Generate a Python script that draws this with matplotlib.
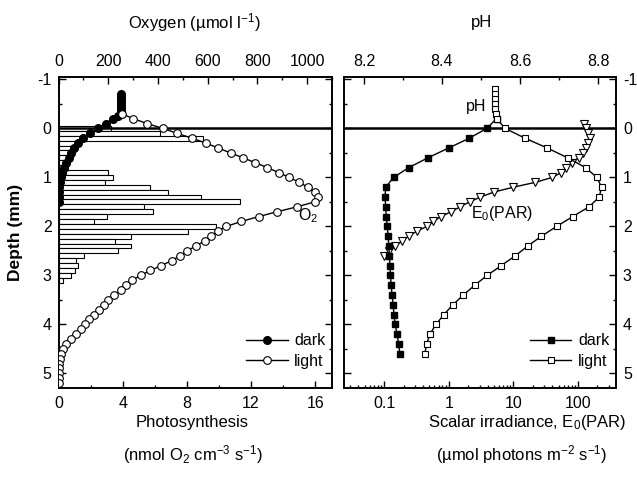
import matplotlib
matplotlib.use("Agg")
import matplotlib.pyplot as plt
from matplotlib.ticker import MultipleLocator, FixedLocator, NullFormatter

plt.rcParams['font.family'] = ['Liberation Sans', 'DejaVu Sans']
plt.rcParams['mathtext.fontset'] = 'custom'
plt.rcParams['mathtext.rm'] = 'Liberation Sans'
plt.rcParams['mathtext.it'] = 'Liberation Sans:italic'
plt.rcParams['axes.unicode_minus'] = False

# ---- left panel: oxygen (top axis) and photosynthesis bars (bottom axis)
dark_depth = [-0.70, -0.65, -0.60, -0.55, -0.50, -0.45, -0.40, -0.35, -0.30, -0.25,
              -0.20, -0.10, 0.00, 0.10, 0.20, 0.30, 0.40, 0.50, 0.60, 0.70,
              0.80, 0.90, 1.00, 1.10, 1.20, 1.30, 1.40, 1.50]
dark_o2 = [252, 252, 252, 252, 252, 252, 252, 252, 251, 238,
           218, 190, 160, 128, 100, 78, 64, 52, 42, 32,
           22, 15, 10, 5, 2, 0, 0, 0]

light_depth = [-0.3, -0.2, -0.1, 0.0, 0.1, 0.2, 0.3, 0.4, 0.5, 0.6, 0.7, 0.8, 0.9,
               1.0, 1.1, 1.2, 1.3, 1.4, 1.5, 1.6, 1.7, 1.8, 1.9, 2.0, 2.1, 2.2,
               2.3, 2.4, 2.5, 2.6, 2.7, 2.8, 2.9, 3.0, 3.1, 3.2, 3.3, 3.4, 3.5,
               3.6, 3.7, 3.8, 3.9, 4.0, 4.1, 4.2, 4.3, 4.4, 4.5, 4.6, 4.7, 4.8,
               4.9, 5.0, 5.1, 5.2]
light_o2 = [255, 300, 356, 420, 477, 537, 593, 642, 692, 742, 792, 840, 885,
            928, 968, 1003, 1030, 1045, 1030, 960, 880, 805, 735, 675, 640, 615,
            588, 552, 518, 489, 455, 413, 370, 330, 296, 270, 250, 222, 200,
            182, 162, 144, 123, 108, 90, 70, 50, 32, 18, 12, 7, 3,
            1, 0, 0, 0]

ps_depth = [0.0, 0.1, 0.2, 0.3, 0.4, 0.5, 0.6, 0.7, 0.8, 0.9, 1.0, 1.1, 1.2, 1.3,
            1.4, 1.5, 1.6, 1.7, 1.8, 1.9, 2.0, 2.1, 2.2, 2.3, 2.4, 2.5, 2.6, 2.7,
            2.8, 2.9, 3.0, 3.1]
ps_rate = [3.3, 6.3, 9.0, 1.0, 0.8, 0.6, 0.5, 0.4, 0.3, 3.1, 3.4, 2.9, 5.7, 6.8,
           8.9, 11.3, 5.3, 5.9, 3.0, 2.2, 9.8, 8.1, 4.5, 3.5, 4.5, 3.7, 1.6, 1.1,
           1.2, 1.0, 0.8, 0.3]

# ---- right panel: pH (top axis) and scalar irradiance (bottom, log)
ph_light_depth = [-0.8, -0.7, -0.6, -0.5, -0.4, -0.3, -0.2, 0.0, 0.2, 0.4, 0.6, 0.8,
                  1.0, 1.2, 1.4, 1.6, 1.8, 2.0, 2.2, 2.4, 2.6, 2.8, 3.0, 3.2, 3.4,
                  3.6, 3.8, 4.0, 4.2, 4.4, 4.6]
ph_light = [8.536, 8.536, 8.536, 8.537, 8.537, 8.538, 8.540, 8.562, 8.613, 8.670,
            8.722, 8.768, 8.797, 8.809, 8.803, 8.777, 8.735, 8.694, 8.655, 8.620,
            8.588, 8.552, 8.516, 8.484, 8.455, 8.428, 8.405, 8.385, 8.369, 8.361,
            8.356]
ph_dark_depth = [-0.2, 0.0, 0.2, 0.4, 0.6, 0.8, 1.0, 1.2, 1.4, 1.6, 1.8, 2.0, 2.2,
                 2.4, 2.6, 2.8, 3.0, 3.2, 3.4, 3.6, 3.8, 4.0, 4.2, 4.4, 4.6]
ph_dark = [8.540, 8.515, 8.470, 8.417, 8.364, 8.315, 8.276, 8.256, 8.254, 8.256,
           8.257, 8.260, 8.262, 8.264, 8.265, 8.267, 8.268, 8.270, 8.272, 8.275,
           8.277, 8.280, 8.285, 8.289, 8.292]

e0_depth = [-0.1, 0.0, 0.1, 0.2, 0.3, 0.4, 0.5, 0.6, 0.7, 0.8, 0.9, 1.0, 1.1, 1.2,
            1.3, 1.4, 1.5, 1.6, 1.7, 1.8, 1.9, 2.0, 2.1, 2.2, 2.3, 2.4, 2.5, 2.6]
e0_par = [125, 132, 143, 155, 145, 133, 118, 102, 80, 66, 55, 40, 22, 10,
          5.0, 3.1, 2.1, 1.5, 1.1, 0.75, 0.58, 0.46, 0.32, 0.24, 0.19, 0.15, 0.12, 0.10]

depth_ticks = [-1, 0, 1, 2, 3, 4, 5]
e0_ticks = [0.1, 1, 10, 100]
e0_tick_labels = ['0.1', '1', '10', '100']
ph_ticks = [8.2, 8.4, 8.6, 8.8]

W, H = 637, 479
fig = plt.figure(figsize=(W / 100, H / 100), dpi=100)


def px(x0, y0, x1, y1):
    return [x0 / W, 1 - y1 / H, (x1 - x0) / W, (y1 - y0) / H]


FS = 11.5


def style(ax):
    for s in ax.spines.values():
        s.set_linewidth(1.2)
    ax.tick_params(which='both', direction='in', width=1.0, labelsize=FS)
    ax.tick_params(which='major', length=5)
    ax.tick_params(which='minor', length=2.5)


# left panel
ax = fig.add_axes(px(58.5, 77, 332, 388))
ax.barh(ps_depth, ps_rate, height=0.1, color='white', edgecolor='black', lw=0.8, zorder=2)
ax.axhline(0, color='black', lw=1.8, zorder=3)
ax.set_xlim(0, 17.05)
ax.set_ylim(5.3, -1.05)
ax.xaxis.set_major_locator(MultipleLocator(4))
ax.xaxis.set_minor_locator(MultipleLocator(2))
ax.yaxis.set_major_locator(FixedLocator(depth_ticks))
ax.yaxis.set_minor_locator(MultipleLocator(0.5))
style(ax)
ax.tick_params(axis='y', which='both', left=True, right=True, labelleft=True, labelright=False)
ax.tick_params(axis='x', pad=6)
ax.tick_params(axis='y', pad=5)

axt = ax.twiny()
axt.plot(dark_o2, dark_depth, '-o', color='black', mfc='black', mec='black',
         ms=5.5, lw=1.0, zorder=4, label='dark')
axt.plot(light_o2, light_depth, '-o', color='black', mfc='white', mec='black',
         ms=5.5, mew=0.8, lw=1.0, zorder=4, label='light')
axt.set_xlim(0, 1100)
axt.xaxis.set_major_locator(MultipleLocator(200))
axt.xaxis.set_minor_locator(MultipleLocator(100))
style(axt)
axt.tick_params(axis='x', pad=6)
axt.text(965, 1.78, 'O$_2$', fontsize=FS, ha='left', va='center')
axt.legend(loc='lower right', bbox_to_anchor=(1.01, 0.03), frameon=False,
           fontsize=FS, handlelength=2.6, handletextpad=0.4, labelspacing=0.35,
           borderaxespad=0.2)

# right panel
ax2 = fig.add_axes(px(344, 77, 616, 388))
ax2.plot(e0_par, e0_depth, '-v', color='black', mfc='white', mec='black',
         ms=5.5, mew=0.8, lw=1.0, zorder=4)
ax2.axhline(0, color='black', lw=1.8, zorder=3)
ax2.set_xscale('log')
ax2.set_xlim(0.024, 387)
ax2.set_ylim(5.3, -1.05)
ax2.set_xticks(e0_ticks)
ax2.set_xticklabels(e0_tick_labels)
ax2.xaxis.set_minor_formatter(NullFormatter())
ax2.yaxis.set_major_locator(FixedLocator(depth_ticks))
ax2.yaxis.set_minor_locator(MultipleLocator(0.5))
style(ax2)
ax2.tick_params(axis='y', which='both', left=True, right=True, labelleft=False, labelright=True)
ax2.tick_params(axis='x', pad=6)
ax2.tick_params(axis='y', pad=5)

ax2t = ax2.twiny()
ax2t.plot(ph_dark, ph_dark_depth, '-s', color='black', mfc='black', mec='black',
          ms=4.5, lw=1.0, zorder=4, label='dark')
ax2t.plot(ph_light, ph_light_depth, '-s', color='black', mfc='white', mec='black',
          ms=4.5, mew=0.8, lw=1.0, zorder=5, label='light')
ax2t.set_xlim(8.149, 8.846)
ax2t.set_xticks(ph_ticks)
ax2t.xaxis.set_minor_locator(MultipleLocator(0.1))
style(ax2t)
ax2t.tick_params(axis='x', pad=6)
ax2t.text(8.487, -0.45, 'pH', fontsize=FS, ha='center', va='center')
ax2t.text(8.554, 1.73, 'E$_0$(PAR)', fontsize=FS, ha='center', va='center')
ax2t.legend(loc='lower right', bbox_to_anchor=(1.01, 0.03), frameon=False,
            fontsize=FS, handlelength=2.6, handletextpad=0.4, labelspacing=0.35,
            borderaxespad=0.2)

# axis titles
fig.text(194 / W, 1 - 23 / H, 'Oxygen (µmol l$^{-1}$)', fontsize=12, ha='center', va='center')
fig.text(482 / W, 1 - 23 / H, 'pH', fontsize=12, ha='center', va='center')
fig.text(192 / W, 1 - 423 / H, 'Photosynthesis', fontsize=12, ha='center', va='center')
fig.text(193 / W, 1 - 455 / H, '(nmol O$_2$ cm$^{-3}$ s$^{-1}$)', fontsize=12, ha='center', va='center')
fig.text(527 / W, 1 - 423 / H, 'Scalar irradiance, E$_0$(PAR)', fontsize=12, ha='center', va='center')
fig.text(522 / W, 1 - 455 / H, '(µmol photons m$^{-2}$ s$^{-1}$)', fontsize=12, ha='center', va='center')
fig.text(16 / W, 1 - 232 / H, 'Depth (mm)', fontsize=12.5, fontweight='bold', rotation=90,
         ha='center', va='center')

fig.savefig('out.png', dpi=100)
